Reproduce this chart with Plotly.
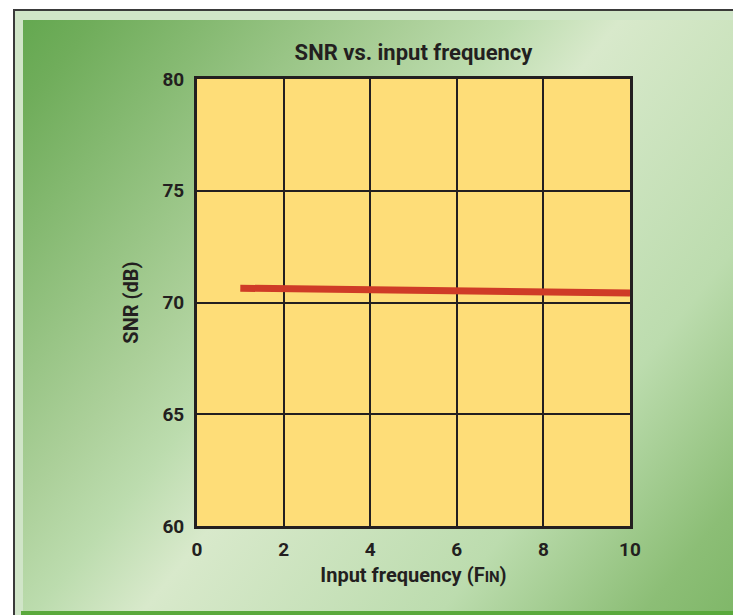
import base64
import plotly.graph_objects as go

# ---- data ----
freq = [1, 2, 4, 6, 8, 10]
snr = [70.64, 70.61, 70.56, 70.52, 70.48, 70.42]
x_ticks = [0, 2, 4, 6, 8, 10]
y_ticks = [60, 65, 70, 75, 80]
title_text = "SNR vs. input frequency"
x_title = "Input frequency (F<span style='font-size:15px'>IN</span>)"
y_title = "SNR (dB)"

W, H = 733, 615
L, R, T, B = 197, 103, 79, 89
FONT = "Roboto, Liberation Sans Narrow, sans-serif"
TXT = "#231f20"

svg = f"""<svg xmlns='http://www.w3.org/2000/svg' width='{W}' height='{H}' viewBox='0 0 {W} {H}' preserveAspectRatio='none'>
<defs>
<linearGradient id='g' gradientUnits='userSpaceOnUse' x1='23' y1='20' x2='{23+927*0.78:.1f}' y2='{20+927*0.63:.1f}'>
<stop offset='0' stop-color='#64a850'/>
<stop offset='0.06' stop-color='#70ad5b'/>
<stop offset='0.33' stop-color='#acd09a'/>
<stop offset='0.41' stop-color='#bcdcae'/>
<stop offset='0.50' stop-color='#d8e9cb'/>
<stop offset='0.75' stop-color='#bcdcae'/>
<stop offset='0.92' stop-color='#8cbe76'/>
<stop offset='1' stop-color='#7fb768'/>
</linearGradient>
</defs>
<rect x='0' y='0' width='{W}' height='{H}' fill='white'/>
<rect x='14' y='10' width='{W}' height='{H}' fill='#d0e5c8'/>
<rect x='23' y='20' width='{W}' height='{H}' fill='url(#g)'/>
<rect x='21' y='611' width='{W}' height='4' fill='#5aa93c'/>
<path d='M14 {H} V10 H{W}' fill='none' stroke='#3a3a3a' stroke-width='2'/>
</svg>"""
src = "data:image/svg+xml;base64," + base64.b64encode(svg.encode()).decode()

pw = W - L - R
ph = H - T - B

fig = go.Figure()
fig.add_trace(go.Scatter(
    x=freq, y=snr, mode="lines",
    line=dict(color="#cf3b27", width=7),
    showlegend=False, hoverinfo="skip",
))

fig.update_layout(
    width=W, height=H,
    margin=dict(l=L, r=R, t=T, b=B, pad=0),
    paper_bgcolor="white",
    plot_bgcolor="#fedd78",
    font=dict(family=FONT, color=TXT, size=19),
    title=dict(text="<b>" + title_text + "</b>", x=(L + pw / 2) / W, xanchor="center",
               y=1 - 52 / H, yanchor="middle",
               font=dict(family=FONT, size=22, color=TXT)),
    images=[dict(source=src, xref="paper", yref="paper",
                 x=-L / pw, y=1 + T / ph, sizex=W / pw, sizey=H / ph,
                 xanchor="left", yanchor="top", sizing="stretch", layer="below")],
    shapes=[dict(type="rect", xref="x domain", yref="y domain", x0=0, x1=1, y0=0, y1=1,
                 fillcolor="#fedd78", line=dict(width=0), layer="below")],
)
fig.update_xaxes(
    range=[0, 10], tickvals=x_ticks, ticktext=[f"<b>{v}</b>" for v in x_ticks],
    showgrid=True, gridcolor=TXT, gridwidth=2,
    showline=True, linecolor=TXT, linewidth=3, mirror=True,
    zeroline=False, ticks="", ticklabelstandoff=4,
    title=dict(text="<b>" + x_title + "</b>", standoff=9,
               font=dict(family=FONT, size=20, color=TXT)),
    tickfont=dict(family=FONT, size=19, color=TXT),
)
fig.update_yaxes(
    range=[60, 80], tickvals=y_ticks, ticktext=[f"<b>{v}</b>" for v in y_ticks],
    showgrid=True, gridcolor=TXT, gridwidth=2,
    showline=True, linecolor=TXT, linewidth=3, mirror=True,
    zeroline=False, ticks="", ticklabelstandoff=6,
    title=dict(text="<b>" + y_title + "</b>", standoff=19,
               font=dict(family=FONT, size=20, color=TXT)),
    tickfont=dict(family=FONT, size=19, color=TXT),
)

fig.write_html(
    "out.html",
    config={"displayModeBar": False},
    post_script="document.body.style.margin='0';document.body.style.overflow='hidden';"
                "document.documentElement.style.overflow='hidden';",
)
